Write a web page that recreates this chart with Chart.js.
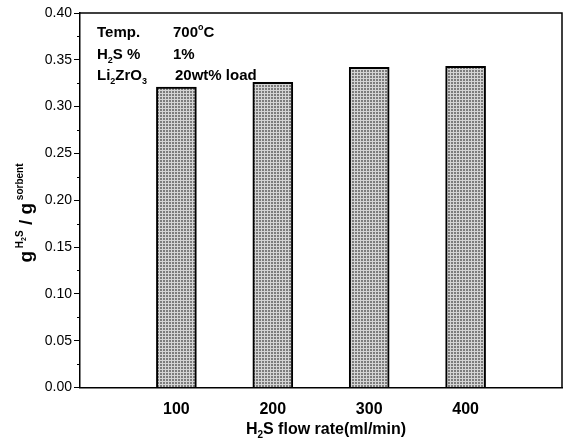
<!DOCTYPE html>
<html>
<head>
<meta charset="utf-8">
<script src="https://cdn.jsdelivr.net/npm/chart.js@4.4.1/dist/chart.umd.min.js"></script>
<style>
  html, body { margin: 0; padding: 0; background: #fff; }
  #wrap { width: 567px; height: 444px; }
</style>
</head>
<body>
<div id="wrap"><canvas id="c" width="567" height="444"></canvas></div>
<script>
// H2S flow rates (ml/min) and sulfur capacity (g H2S per g sorbent)
const flowRates = [100, 200, 300, 400];
const capacity = [0.321, 0.326, 0.342, 0.343];
const yTicks = [0.00, 0.05, 0.10, 0.15, 0.20, 0.25, 0.30, 0.35, 0.40];
const xTickLabels = ['100', '200', '300', '400'];

const FONT = '"Liberation Sans", Arial, sans-serif';

// stippled grey fill for the bars
function makePattern() {
  const p = document.createElement('canvas');
  p.width = 3; p.height = 3;
  const g = p.getContext('2d');
  g.fillStyle = '#7c7c7c';
  g.fillRect(0, 0, 3, 3);
  g.fillStyle = '#d4d4d4';
  g.fillRect(0, 0, 3, 1);
  g.fillRect(0, 0, 1, 3);
  return document.getElementById('c').getContext('2d').createPattern(p, 'repeat');
}

// draws a sequence of [text, size, dy] runs along the baseline
function drawRuns(ctx, runs, x, y) {
  let cx = x;
  for (const [t, size, dy] of runs) {
    ctx.font = 'bold ' + size + 'px ' + FONT;
    ctx.fillText(t, cx, y + dy);
    cx += ctx.measureText(t).width;
  }
  return cx;
}
function runsWidth(ctx, runs) {
  let w = 0;
  for (const [t, size] of runs) {
    ctx.font = 'bold ' + size + 'px ' + FONT;
    w += ctx.measureText(t).width;
  }
  return w;
}

const decorations = {
  id: 'decorations',
  afterDraw(chart) {
    const ctx = chart.ctx;
    const a = chart.chartArea;
    const ys = chart.scales.y;
    ctx.save();
    ctx.strokeStyle = '#000';
    // frame top and right
    ctx.lineWidth = 1.5;
    ctx.beginPath();
    ctx.moveTo(a.left, a.top);
    ctx.lineTo(a.right, a.top);
    ctx.lineTo(a.right, a.bottom);
    ctx.stroke();
    // minor ticks on the y axis
    ctx.lineWidth = 1;
    for (let i = 0; i < yTicks.length - 1; i++) {
      const v = (yTicks[i] + yTicks[i + 1]) / 2;
      const py = Math.round(ys.getPixelForValue(v)) + 0.5;
      ctx.beginPath();
      ctx.moveTo(a.left - 3, py);
      ctx.lineTo(a.left, py);
      ctx.stroke();
    }

    ctx.fillStyle = '#000';
    ctx.textBaseline = 'alphabetic';
    ctx.textAlign = 'left';

    // legend-like annotation block
    const tx = a.left + 17, vx = a.left + 93;
    drawRuns(ctx, [['Temp.', 15, 0]], tx, 37);
    drawRuns(ctx, [['700', 15, 0], ['o', 9, -7], ['C', 15, 0]], vx, 37);
    drawRuns(ctx, [['H', 15, 0], ['2', 9, 4], ['S %', 15, 0]], tx, 59);
    drawRuns(ctx, [['1%', 15, 0]], vx, 59);
    drawRuns(ctx, [['Li', 15, 0], ['2', 9, 4], ['ZrO', 15, 0], ['3', 9, 4]], tx, 80);
    drawRuns(ctx, [['20wt% load', 15, 0]], vx + 2, 80);

    // x axis title
    const xt = [['H', 16, 0], ['2', 10, 4], ['S flow rate(ml/min)', 16, 0]];
    const xw = runsWidth(ctx, xt);
    drawRuns(ctx, xt, 326 - xw / 2, 434);

    // y axis title, rotated
    const yt = [['g', 19, 0], [' ', 10, 0], ['H', 10, -9], ['2', 7, -6], ['S', 10, -9],
                [' / ', 19, 0], ['g', 19, 0], [' ', 10, 0], ['sorbent', 10, -9]];
    const yw = runsWidth(ctx, yt);
    ctx.translate(32, 213);
    ctx.rotate(-Math.PI / 2);
    drawRuns(ctx, yt, -yw / 2, 0);
    ctx.restore();
  }
};

const pattern = makePattern();

new Chart(document.getElementById('c'), {
  type: 'bar',
  data: {
    datasets: [{
      data: flowRates.map((x, i) => ({ x: x, y: capacity[i] })),
      backgroundColor: pattern,
      borderColor: '#000',
      borderWidth: 2,
      barThickness: 40
    }]
  },
  plugins: [decorations],
  options: {
    responsive: false,
    animation: false,
    events: [],
    layout: { padding: { top: 13, right: 5, left: 0, bottom: 0 } },
    plugins: { legend: { display: false }, tooltip: { enabled: false } },
    scales: {
      x: {
        type: 'linear',
        offset: false,
        min: 0, max: 500,
        afterFit(s) { s.height = 56.5; s.paddingLeft = 0; s.paddingRight = 0; },
        afterBuildTicks(s) { s.ticks = [0, 100, 200, 300, 400, 500].map(v => ({ value: v })); },
        grid: { display: false, drawTicks: false },
        border: { color: '#000', width: 1.5 },
        ticks: {
          padding: 12,
          color: '#000',
          font: { family: FONT, size: 16, weight: 'bold' },
          callback(v) { const i = flowRates.indexOf(v); return i >= 0 ? xTickLabels[i] : ''; }
        }
      },
      y: {
        min: 0, max: 0.40,
        afterFit(s) { s.width = 80; },
        afterBuildTicks(s) { s.ticks = yTicks.map(v => ({ value: v })); },
        grid: { drawOnChartArea: false, drawTicks: true, tickLength: 6, tickColor: '#000', tickWidth: 1 },
        border: { color: '#000', width: 1.5 },
        ticks: {
          padding: 2,
          color: '#000',
          font: { family: FONT, size: 14 },
          callback(v) { return v.toFixed(2); }
        }
      }
    }
  }
});
</script>
</body>
</html>
